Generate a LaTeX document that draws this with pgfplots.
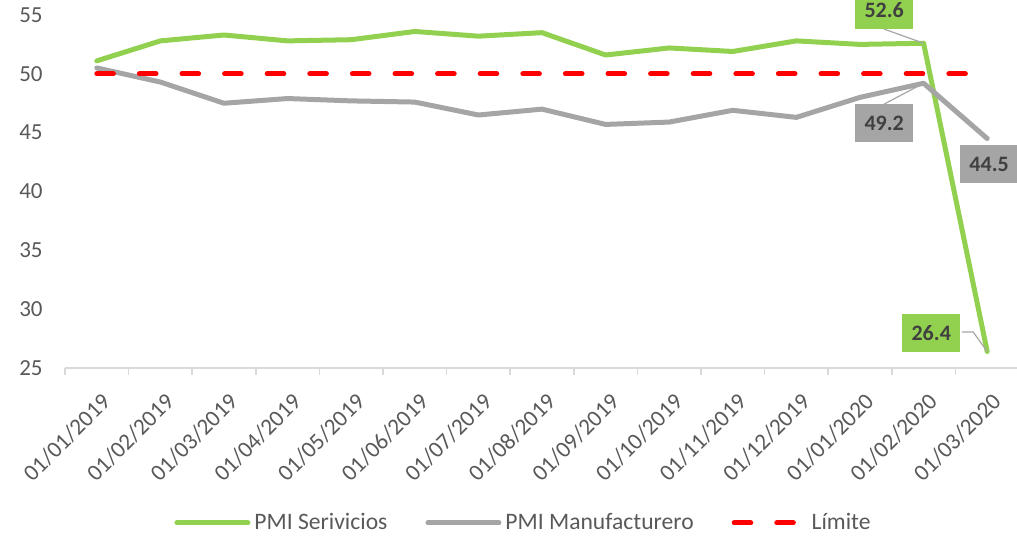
\documentclass[border=0pt]{standalone}
\usepackage{fontspec}
\setmainfont{Carlito}
\usepackage{pgfplots}
\pgfplotsset{compat=1.18}
\definecolor{pmigreen}{HTML}{92D050}
\definecolor{pmigray}{HTML}{A5A5A5}
\definecolor{txtgray}{HTML}{595959}
\definecolor{lbl}{HTML}{404040}
\definecolor{axgray}{HTML}{D9D9D9}
\definecolor{leader}{HTML}{A6A6A6}
\begin{document}
\begin{tikzpicture}
\useasboundingbox (-32.5pt,-86pt) rectangle (476pt,184pt);
\begin{axis}[
  scale only axis, width=477pt, height=176.5pt,
  xmin=-0.5, xmax=14.5, ymin=25, ymax=55,
  axis x line*=bottom, axis y line*=left,
  x axis line style={draw=axgray, line width=0.75pt, -},
  y axis line style={draw=none, -},
  xtick={0,...,14},
  xticklabels={01/01/2019,01/02/2019,01/03/2019,01/04/2019,01/05/2019,01/06/2019,01/07/2019,01/08/2019,01/09/2019,01/10/2019,01/11/2019,01/12/2019,01/01/2020,01/02/2020,01/03/2020},
  major tick length=0pt,
  tick style={draw=axgray, line width=0.75pt},
  tick align=outside,
  extra x ticks={-0.5,0.5,...,14.5},
  extra x tick labels={},
  extra x tick style={major tick length=3.5pt, tick align=outside},
  ytick={25,30,...,55},
  tick label style={text=txtgray},
  xticklabel style={font=\fontsize{11.6}{14}\selectfont, rotate=45, anchor=north east, inner sep=0pt, yshift=-9.5pt, xshift=-7pt},
  yticklabel style={font=\fontsize{11.5}{13}\selectfont, anchor=east, inner sep=0pt, xshift=-11pt},
  /pgf/number format/assume math mode=true,
  clip=false,
  legend style={at={(0.108,-0.439)}, anchor=west, draw=none, fill=none,
    legend columns=3, font=\fontsize{11.8}{14}\selectfont, text=txtgray,
    /tikz/every even column/.append style={column sep=17pt}},
  legend image code/.code={\draw[#1] (0pt,0pt) -- (35.5pt,0pt);},
]
\addplot[pmigreen, line width=2.5pt, line join=round, line cap=round] coordinates {
(0,51.1) (1,52.8) (2,53.3) (3,52.8) (4,52.9) (5,53.6) (6,53.2) (7,53.5)
(8,51.6) (9,52.2) (10,51.9) (11,52.8) (12,52.5) (13,52.6) (14,26.4)};
\addlegendentry{PMI Serivicios}
\addplot[pmigray, line width=2.5pt, line join=round, line cap=round] coordinates {
(0,50.5) (1,49.3) (2,47.5) (3,47.9) (4,47.7) (5,47.6) (6,46.5) (7,47.0)
(8,45.7) (9,45.9) (10,46.9) (11,46.3) (12,48.0) (13,49.2) (14,44.5)};
\addlegendentry{PMI Manufacturero}
\addplot[red, line width=2.5pt, line cap=round, dash pattern=on 8.3pt off 13pt] coordinates {
(0,50) (14,50)};
\addlegendentry{Límite}

\draw[leader, line width=0.6pt] (axis cs:12.38,53.8) -- (axis cs:13,52.6);
\node[fill=pmigreen, text=lbl, font=\fontsize{11}{13}\selectfont\bfseries, minimum width=29pt, minimum height=19pt, inner sep=0pt] at (axis cs:12.38,55.42) {52.6};
\draw[leader, line width=0.6pt] (axis cs:12.38,47.43) -- (axis cs:13,49.2);
\node[fill=pmigray, text=lbl, font=\fontsize{11}{13}\selectfont\bfseries, minimum width=29pt, minimum height=19pt, inner sep=0pt] at (axis cs:12.38,45.8) {49.2};
\node[fill=pmigray, text=lbl, font=\fontsize{11}{13}\selectfont\bfseries, minimum width=29pt, minimum height=19pt, inner sep=0pt] at (axis cs:14.03,42.3) {44.5};
\draw[leader, line width=0.6pt] (axis cs:13.60,28.06) -- (axis cs:13.78,28.06) -- (axis cs:14,26.4);
\node[fill=pmigreen, text=lbl, font=\fontsize{11}{13}\selectfont\bfseries, minimum width=29pt, minimum height=19pt, inner sep=0pt] at (axis cs:13.12,27.97) {26.4};
\end{axis}
\end{tikzpicture}
\end{document}
